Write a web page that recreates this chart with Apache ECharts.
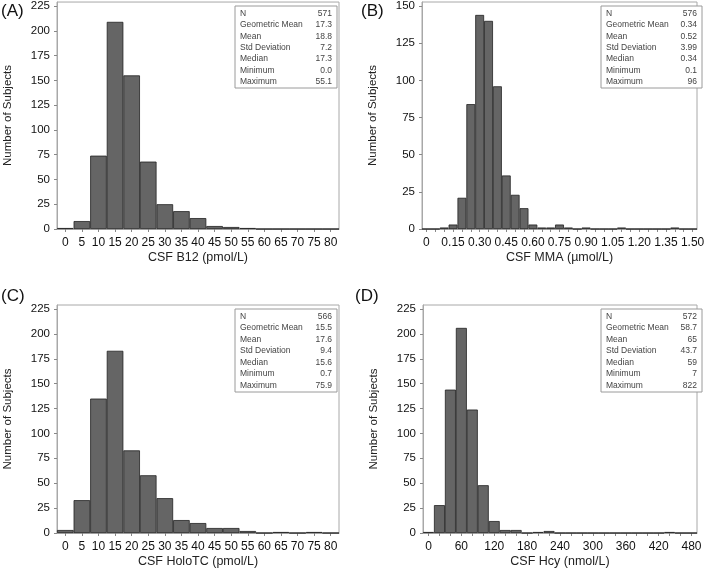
<!DOCTYPE html>
<html>
<head>
<meta charset="utf-8">
<script src="https://cdn.jsdelivr.net/npm/echarts@6/dist/echarts.min.js"></script>
<style>
html,body{margin:0;padding:0;background:#fff;}
#chart{width:709px;height:570px;}
</style>
</head>
<body>
<div id="chart"></div>
<script>
// ---------- data ----------
const catsA = ["0","5","10","15","20","25","30","35","40","45","50","55","60","65","70","75","80"];
const valsA = [1,8,74,209,155,68,25,18,11,3,2,1,0,0,0,0,0];

const catsB = ["0","0.05","0.10","0.15","0.20","0.25","0.30","0.35","0.40","0.45","0.50","0.55","0.60","0.65","0.70","0.75","0.80","0.85","0.90","0.95","1.00","1.05","1.10","1.15","1.20","1.25","1.30","1.35","1.40","1.45","1.50"];
const valsB = [0,0,1,3,21,84,144,140,96,36,23,14,3,1,1,3,1,0,1,0,0,0,1,0,0,0,0,0,1,0,0];

const catsC = ["0","5","10","15","20","25","30","35","40","45","50","55","60","65","70","75","80"];
const valsC = [3,33,135,183,83,58,35,13,10,5,5,2,0,1,0,1,0];

const catsD = ["0","20","40","60","80","100","120","140","160","180","200","220","240","260","280","300","320","340","360","380","400","420","440","460","480"];
const valsD = [1,28,144,206,124,48,12,3,3,0,1,2,0,0,0,0,0,0,0,0,0,0,1,0,0];

const panelLabels = ["(A)","(B)","(C)","(D)"];
const xNames = ["CSF B12 (pmol/L)","CSF MMA (\u00b5mol/L)","CSF HoloTC (pmol/L)","CSF Hcy (nmol/L)"];
const yName = "Number of Subjects";

const statLabels = ["N","Geometric Mean","Mean","Std Deviation","Median","Minimum","Maximum"];
const statsA = ["571","17.3","18.8","7.2","17.3","0.0","55.1"];
const statsB = ["576","0.34","0.52","3.99","0.34","0.1","96"];
const statsC = ["566","15.5","17.6","9.4","15.6","0.7","75.9"];
const statsD = ["572","58.7","65","43.7","59","7","822"];

// ---------- layout ----------
const FONT = "'Liberation Sans', Arial, sans-serif";
const grids = [
  {left:57, top:2, width:282, height:227},
  {left:422, top:2, width:275, height:227},
  {left:57, top:305, width:282, height:228},
  {left:423, top:305, width:274, height:228}
];
const yMax = [229, 152.7, 229, 229];
const yInterval = [25, 25, 25, 25];
const labelInterval = [0, 2, 0, 2];
const cats = [catsA, catsB, catsC, catsD];
const vals = [valsA, valsB, valsC, valsD];
const stats = [statsA, statsB, statsC, statsD];
const boxes = [
  {x:235, y:6, w:102, h:82},
  {x:601, y:6, w:101, h:82},
  {x:235, y:309, w:102, h:83},
  {x:601, y:309, w:101, h:83}
];
const panelPos = [[1,3],[361,3],[1,288],[355,288]];

const chart = echarts.init(document.getElementById('chart'));

const grid = grids.map(g => Object.assign({show:true, borderColor:'#a8a8a8', borderWidth:1, backgroundColor:'#fff'}, g));

const xAxis = cats.map((c,i) => ({
  type:'category', gridIndex:i, data:c,
  boundaryGap:true,
  axisLine:{show:true, lineStyle:{color:'#a8a8a8', width:1}},
  axisTick:{show:true, alignWithLabel:true, length:3, lineStyle:{color:'#888'}, interval:0},
  axisLabel:{interval:labelInterval[i], color:'#111', fontSize:12, fontFamily:FONT, margin:8},
  name:xNames[i], nameLocation:'middle', nameGap:22,
  nameTextStyle:{fontSize:12.5, color:'#222', fontFamily:FONT}
}));

const yAxis = grids.map((g,i) => ({
  type:'value', gridIndex:i, min:0, max:yMax[i], interval:yInterval[i],
  axisLine:{show:true, lineStyle:{color:'#a8a8a8', width:1}},
  axisTick:{show:true, length:3, lineStyle:{color:'#888'}},
  splitLine:{show:false},
  axisLabel:{color:'#111', fontSize:11.5, fontFamily:FONT, margin:7, showMaxLabel:false},
  name:yName, nameLocation:'middle', nameGap:43,
  nameTextStyle:{fontSize:11.5, color:'#222', fontFamily:FONT}
}));

const series = vals.map((v,i) => ({
  type:'bar', xAxisIndex:i, yAxisIndex:i, data:v,
  barCategoryGap:'0%', barGap:'0%',
  itemStyle:{color:'#656565', borderColor:'#222', borderWidth:0.8},
  silent:true, animation:false
}));

const graphic = [];
panelLabels.forEach((t,i) => {
  graphic.push({type:'text', left:panelPos[i][0], top:panelPos[i][1],
    style:{text:t, fontSize:17, fill:'#111', fontFamily:FONT}});
});
boxes.forEach((b,i) => {
  graphic.push({type:'rect', shape:{x:b.x, y:b.y, width:b.w, height:b.h},
    style:{fill:'#fff', stroke:'#9a9a9a', lineWidth:1}, z:10});
  const lh = (b.h - 14) / 6;
  statLabels.forEach((s,k) => {
    const y = b.y + 7.5 + k*lh;
    graphic.push({type:'text', x:b.x + 5, y:y, z:11,
      style:{text:s, fontSize:8.5, fill:'#444', fontFamily:FONT, textVerticalAlign:'middle', textAlign:'left'}});
    graphic.push({type:'text', x:b.x + b.w - 5, y:y, z:11,
      style:{text:stats[i][k], fontSize:8.5, fill:'#444', fontFamily:FONT, textVerticalAlign:'middle', textAlign:'right'}});
  });
});

chart.setOption({
  animation:false,
  backgroundColor:'#fff',
  grid, xAxis, yAxis, series, graphic
});
</script>
</body>
</html>
